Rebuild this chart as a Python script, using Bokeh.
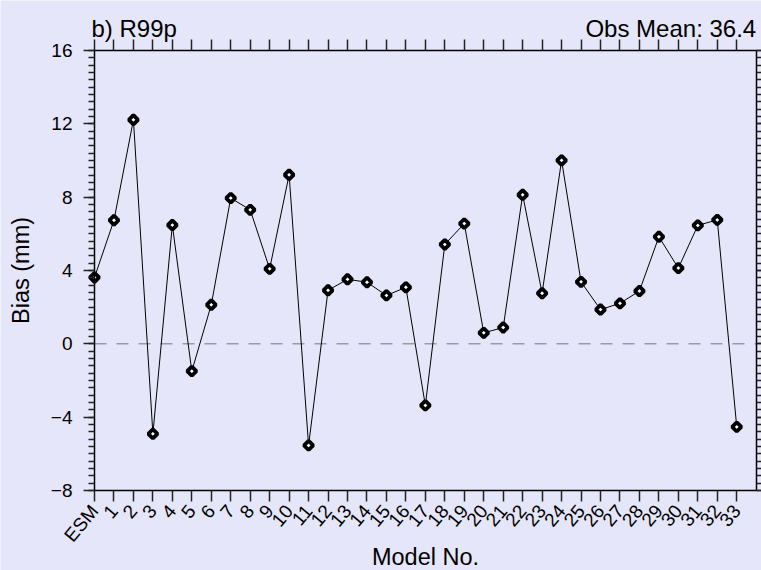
import math

from bokeh.embed import file_html
from bokeh.models import (ColumnDataSource, CustomJSTickFormatter, FixedTicker,
                          Label, LinearAxis, Range1d, SingleIntervalTicker)
from bokeh.plotting import figure
from bokeh.resources import INLINE

# Model labels along the x axis and the R99p bias of each model (mm)
models = ["ESM"] + [str(i) for i in range(1, 34)]
bias = [3.62, 6.74, 12.22, -4.91, 6.48, -1.49, 2.13, 7.95, 7.31, 4.09,
        9.22, -5.54, 2.92, 3.52, 3.36, 2.64, 3.08, -3.36, 5.42, 6.56,
        0.60, 0.89, 8.13, 2.76, 10.01, 3.38, 1.87, 2.21, 2.88, 5.84,
        4.13, 6.46, 6.76, -4.53]

panel_title = "b) R99p"
obs_note = "Obs Mean: 36.4"
y_lo, y_hi = -8, 16

BG = "#E6E6FA"
FONT = "Liberation Sans"

# canvas size and the box (in pixels) that holds the axes
W, H = 761, 570
BOX_L, BOX_R, BOX_T, BOX_B = 94, 755.7, 50, 490

idx = list(range(len(models)))
x_lo, x_hi = 0, len(models)
src = ColumnDataSource(data=dict(x=idx, y=bias, name=models))

# the plotting frame fills the whole canvas; axes are pinned to the box edges
sx = (BOX_R - BOX_L) / (x_hi - x_lo)
sy = (BOX_B - BOX_T) / (y_hi - y_lo)
x_range = Range1d(x_lo - BOX_L / sx, x_hi + (W - BOX_R) / sx)
y_range = Range1d(y_lo - (H - BOX_B) / sy, y_hi + BOX_T / sy)

p = figure(width=W, height=H, x_range=x_range, y_range=y_range,
           x_axis_location=None, y_axis_location=None,
           output_backend="svg", toolbar_location=None, min_border=0,
           background_fill_color=BG, border_fill_color=BG,
           outline_line_color=None)
p.grid.visible = False

blank = CustomJSTickFormatter(code="return '';")


def style_axis(ax, tick_len, minor_len=0):
    ax.axis_line_color = "black"
    ax.axis_line_width = 1.5
    ax.major_tick_line_color = "#222222"
    ax.major_tick_line_width = 1.5
    ax.major_tick_in = 0
    ax.major_tick_out = tick_len
    ax.minor_tick_line_color = "#222222"
    ax.minor_tick_line_width = 1.5
    ax.minor_tick_in = 0
    ax.minor_tick_out = minor_len
    ax.major_label_text_font = FONT
    ax.major_label_text_color = "black"
    ax.axis_label_text_font = FONT
    ax.axis_label_text_font_style = "normal"
    ax.axis_label_text_color = "black"


y_ticker = SingleIntervalTicker(interval=4, num_minor_ticks=10)
x_ticker = FixedTicker(ticks=idx)

left = LinearAxis(ticker=y_ticker, axis_label="Bias (mm)",
                  fixed_location=x_lo, bounds=(y_lo, y_hi))
style_axis(left, 11, 6)
left.major_label_text_font_size = "19px"
left.major_label_standoff = 11
left.axis_label_text_font_size = "23.5px"
left.axis_label_standoff = 14
p.add_layout(left, "left")

right = LinearAxis(ticker=y_ticker, formatter=blank,
                   fixed_location=x_hi, bounds=(y_lo, y_hi))
style_axis(right, 6, 6)
p.add_layout(right, "right")

top = LinearAxis(ticker=x_ticker, formatter=blank,
                 fixed_location=y_hi, bounds=(x_lo, x_hi))
style_axis(top, 11)
p.add_layout(top, "above")

bottom = LinearAxis(ticker=x_ticker, axis_label="Model No.",
                    fixed_location=y_lo, bounds=(x_lo, x_hi))
style_axis(bottom, 11)
bottom.formatter = CustomJSTickFormatter(
    args=dict(labels=models),
    code="const i = Math.round(tick); return (i >= 0 && i < labels.length) ? labels[i] : '';")
bottom.major_label_orientation = math.radians(50)
bottom.major_label_text_font_size = "19px"
bottom.major_label_standoff = 6
bottom.axis_label_text_font_size = "23.5px"
bottom.axis_label_standoff = -12
p.add_layout(bottom, "below")

# zero reference line across the box
p.line(x=[x_lo, x_hi], y=[0, 0], line_color="#9a9aa2", line_width=1.5, line_dash="12 10")

# connecting line and diamond markers
p.line("x", "y", source=src, line_color="black", line_width=1)
p.scatter("x", "y", source=src, marker="square", angle=math.pi / 4,
          size=6.5, fill_color="white", line_color="black", line_width=3.8)

# panel title and observed mean above the box
p.add_layout(Label(x=x_lo, y=y_hi, x_offset=-3, y_offset=22, text=panel_title,
                   text_font=FONT, text_font_size="24px", text_color="black",
                   text_align="left", text_baseline="alphabetic"))
p.add_layout(Label(x=x_hi, y=y_hi, y_offset=22, text=obs_note,
                   text_font=FONT, text_font_size="24px", text_color="black",
                   text_align="right", text_baseline="alphabetic"))

open("out.html", "w").write(file_html(p, INLINE))
